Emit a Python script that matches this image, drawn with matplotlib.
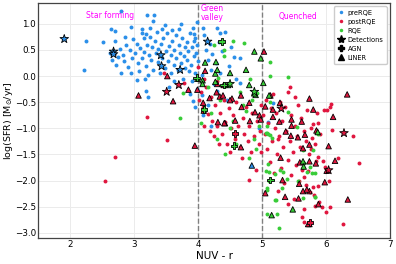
import numpy as np
import matplotlib
matplotlib.use('Agg')
import matplotlib.pyplot as plt
from matplotlib.lines import Line2D

# --- preRQE (blue) ---
pre_x = [2.22, 2.25, 2.52, 2.64, 2.70, 2.70, 2.79, 2.96, 3.13, 3.19, 3.21, 3.31, 3.30, 3.44, 3.60,
         3.74, 3.92, 3.93, 3.99, 3.96,
         2.62, 2.66, 2.72, 2.75, 2.78, 2.82, 2.85, 2.88, 2.90, 2.93, 2.97, 2.99, 2.80, 2.95, 2.86,
         3.02, 3.05, 3.06, 3.08, 3.10, 3.12, 3.15, 3.16, 3.18, 3.20, 3.22, 3.24, 3.25, 3.27, 3.28,
         3.30, 3.32, 3.34, 3.36, 3.37, 3.38, 3.40, 3.05, 3.17, 3.18, 3.22, 3.12, 3.25,
         3.42, 3.44, 3.46, 3.48, 3.50, 3.52, 3.53, 3.55, 3.57, 3.58, 3.60, 3.62, 3.63, 3.65, 3.66,
         3.68, 3.70, 3.72, 3.73, 3.75, 3.76, 3.78, 3.80, 3.55, 3.62, 3.48, 3.70, 3.79,
         3.82, 3.83, 3.85, 3.86, 3.88, 3.89, 3.90, 3.91, 3.93, 3.94, 3.95, 3.97, 3.98, 3.99, 3.87,
         3.92, 3.96, 4.00,
         4.08, 4.10, 4.06, 4.06, 4.08, 4.12, 4.15, 4.18, 4.20, 4.22, 4.25, 4.28, 4.30, 4.33, 4.34,
         4.35, 4.38, 4.42, 4.45, 4.48, 4.52, 4.56, 4.60, 4.66, 4.66, 4.15, 4.20, 4.30,
         5.17, 5.10, 4.95]
pre_y = [0.12, 0.67, 0.65, 0.90, 0.87, 0.67, 1.25, 0.94, 0.83, 0.80, 1.17, 1.17, 1.06, 0.90, 0.88,
         0.99, 0.92, 0.80, 1.03, 0.73,
         0.45, 0.30, 0.22, 0.37, 0.52, 0.41, 0.28, 0.60, 0.18, 0.50, 0.34, 0.71, 0.05, 0.05, 0.75,
         0.44, 0.62, 0.25, 0.10, 0.53, 0.35, 0.72, 0.47, 0.20, 0.60, 0.02, 0.40, 0.75, 0.30, 0.55,
         0.12, 0.68, 0.45, 0.85, 0.26, 0.52, 0.05, -0.08, -0.06, -0.28, -0.40, 0.90, 0.92,
         0.62, 0.35, 0.72, 0.15, 0.48, 0.82, 0.28, 0.58, 0.40, 0.05, 0.68, 0.22, 0.50, 0.78, 0.35,
         0.12, 0.60, 0.45, 0.25, 0.72, -0.05, 0.38, 0.55, -0.20, -0.10, 0.98, 0.90, 0.15,
         0.30, 0.65, 0.48, 0.10, 0.82, 0.22, 0.55, -0.10, 0.38, 0.68, 0.05, 0.45, -0.25, 0.60, -0.35,
         -0.48, -0.60, 0.28,
         0.92, 0.79, 0.02, -0.37, -0.75, 0.50, 0.30, 0.62, 0.12, 0.42, -0.15, 0.25, 0.92, 0.65, 0.83,
         0.05, 0.48, 0.84, -0.45, 0.20, 0.55, 0.36, -0.05, 0.34, -0.13, -0.55, -0.95, -0.28,
         -0.52, -0.88, -1.00]

# --- postRQE (red) ---
post_x = [2.54, 2.70, 3.51, 3.21, 3.47, 4.00, 3.78,
          4.02, 4.05, 4.08, 4.10, 4.12, 4.15, 4.18, 4.20, 4.22, 4.25, 4.27, 4.30, 4.32, 4.35, 4.38,
          4.40, 4.42, 4.45, 4.48, 4.50, 4.52, 4.55, 4.58, 4.60, 4.62, 4.65, 4.68, 4.70, 4.72, 4.75,
          4.78, 4.79, 4.80, 4.82, 4.85, 4.87, 4.90, 4.92, 4.95, 4.97, 4.99, 4.98, 4.10, 4.30,
          5.02, 5.05, 5.06, 5.08, 5.10, 5.12, 5.14, 5.15, 5.17, 5.18, 5.20, 5.22, 5.23, 5.25, 5.26,
          5.28, 5.30, 5.31, 5.33, 5.35, 5.36, 5.38, 5.40, 5.41, 5.43, 5.45, 5.46, 5.48, 5.50, 5.51,
          5.53, 5.55, 5.56, 5.58, 5.60, 5.61, 5.63, 5.65, 5.65, 5.66, 5.68, 5.69, 5.70, 5.72, 5.73,
          5.75, 5.76, 5.77, 5.78, 5.80, 5.80, 5.81, 5.83, 5.83, 5.85, 5.86, 5.87, 5.88, 5.88, 5.89,
          5.91, 5.93, 5.96, 5.97, 5.98, 6.00, 6.01, 6.02, 6.05, 6.06, 6.06, 6.07, 6.10, 6.19, 6.26,
          6.42, 6.52, 5.65, 5.62, 5.40, 5.25, 5.52, 5.44]
post_y = [-2.00, -1.55, -1.22, -0.79, 0.05, 0.18, -0.13,
          -0.45, -0.30, -0.60, -0.95, -0.20, -0.72, -1.05, -0.40, -0.85, -1.15, -0.55, -0.95, -1.30,
          -0.70, -1.10, -0.45, -0.88, -1.29, -0.62, -1.46, -1.00, -0.75, -1.20, -0.50, -0.95, -1.35,
          -1.56, -0.80, -1.10, -0.60, -1.25, -1.99, -0.95, -1.45, -0.70, -1.15, -1.79, -0.85, -1.30,
          -1.05, -1.46, -0.55, -0.05, -0.10,
          -0.75, -1.10, -0.45, -1.40, -0.90, -1.65, -0.62, -1.25, -0.35, -1.85, -1.00, -0.70, -1.50,
          -2.20, -1.15, -0.50, -1.75, -0.85, -1.35, -2.05, -0.60, -1.05, -1.60, -0.30, -1.25, -1.90,
          -0.75, -1.45, -2.35, -0.95, -1.70, -1.15, -0.55, -2.00, -1.35, -0.80, -1.80, -1.05, -1.94,
          -2.55, -1.24, -2.09, -0.65, -1.81, -1.50, -2.22, -1.00, -1.40, -1.18, -2.13, -0.92, -2.28,
          -1.29, -2.48, -1.62, -0.70, -2.10, -0.90, -1.54, -2.41, -1.10, -2.50, -1.62, -0.65, -1.73,
          -2.60, -1.81, -0.64, -2.00, -0.59, -2.50, -0.54, -1.03, -1.57, -2.83, -1.15, -1.67, -2.79,
          -2.70, -2.45, -1.20, -0.40, -0.20]

# --- RQE (green) ---
rqe_x = [4.25, 4.40, 4.54, 4.72, 5.13, 5.13, 5.40, 4.41, 4.31, 4.81, 3.77, 3.72,
         4.71, 4.75, 4.92, 5.07, 5.06, 5.10, 4.55, 5.41, 5.54, 5.13,
         5.07, 5.12, 5.16, 4.42, 4.79, 5.10, 5.06, 5.11, 5.28, 5.33, 5.20, 5.11, 5.07, 5.22, 5.65,
         5.39, 5.56, 5.70,
         5.07, 5.24, 5.27, 5.21, 5.31, 5.07, 5.83, 5.64,
         5.88, 5.64, 5.80, 5.75, 5.78, 5.83, 5.83,
         4.05, 4.20, 4.30, 4.50, 4.60, 4.15, 4.35, 4.65, 4.85, 4.88, 4.95, 4.90]
rqe_y = [0.60, 0.50, 0.68, 0.63, 0.26, 0.00, -0.01, 0.38, -0.03, -0.06, -0.32, -0.81,
         -0.56, -0.66, -0.33, -0.96, -1.08, -1.10, -0.85, -0.69, -0.97, -0.50,
         -1.09, -1.13, -1.18, -1.50, -1.56, -1.69, -1.81, -1.84, -1.79, -1.83, -1.88, -2.00, -2.14,
         -2.38, -1.67, -1.96, -2.00, -1.84,
         -2.63, -2.64, -2.91, -2.37, -2.14, -2.17, -2.31, -2.34,
         -1.10, -1.41, -1.42, -1.73, -1.85, -1.86, -2.31,
         -0.90, -0.70, -1.20, -1.00, -1.30, -0.20, -0.45, -0.30, -0.45, -1.20, -0.95, -1.40]

# --- LINER (triangles), fill follows the group ---
liner_x = [3.07, 3.61, 3.52, 3.85, 3.99, 3.95, 4.11, 4.08, 4.09, 4.30, 4.29, 4.34, 4.40, 4.18,
           4.42, 4.31, 4.39, 4.53, 4.67, 4.68, 4.80, 4.41, 4.58, 4.81, 4.89, 4.96, 5.05, 4.98,
           5.17, 5.28, 5.17, 5.27, 5.46, 5.46, 5.62, 5.74, 5.85, 5.37, 5.45, 5.56, 5.03, 6.33,
           5.13, 6.11, 4.50, 5.80, 5.67, 5.74, 6.04, 5.64, 5.84, 5.74, 6.14, 6.01, 5.98, 5.74,
           5.88, 6.34, 5.74, 4.67, 5.29, 5.59, 5.32, 5.05, 5.36, 5.57, 5.64, 5.58, 5.70, 5.72,
           3.99, 4.88, 4.98, 4.28, 4.11, 4.75, 4.50, 4.27, 4.07, 4.07, 4.27, 4.47, 4.90, 5.11,
           4.80, 4.88, 5.02, 4.30, 5.15, 5.48, 5.87, 5.64, 5.65, 4.84]
liner_y = [-0.37, -0.48, 0.00, -0.26, -0.26, -1.33, 0.10, -0.51, -0.66, -0.15, -0.31, -0.39,
           -0.17, -0.42, -0.90, -0.88, -0.37, -0.43, -0.37, -0.59, -0.51, -0.90, -0.85, -0.86,
           -0.69, -0.75, -0.58, -0.83, -0.64, -0.51, -0.78, -0.87, -0.83, -0.95, -0.87, -0.43,
           -1.04, -1.06, -1.14, -1.17, 0.47, -0.35, -0.37, -0.78, -0.46, -0.64, -1.12, -1.31,
           -1.34, -1.38, -1.67, -1.63, -1.62, -1.81, -2.03, -2.20, -2.45, -2.36, -2.83, -1.36,
           -1.56, -1.65, -1.99, -2.24, -2.31, -2.34, -2.20, -2.06, -2.17, -2.83,
           -0.05, 0.47, 0.34, 0.27, 0.26, 0.12, 0.06, 0.05, -0.08, -0.15, -0.11, -0.17, -0.36,
           -0.37, -0.17, -0.33, -0.13, 0.12, -2.66, -2.55, -1.07, -1.63, -1.73, -1.71]
liner_grp = ['post'] * 70 + ['rqe'] * 23 + ['pre']

# --- Detections (stars) ---
det_x = [1.91, 2.68, 2.68, 3.42, 3.43, 3.72, 4.15, 3.51, 3.70, 6.28, 6.04, 5.30, 4.50, 4.88]
det_y = [0.71, 0.47, 0.42, 0.40, 0.19, 0.12, 0.66, -0.30, -0.17, -1.09, -1.80, -0.62, -0.15, -0.30]
det_grp = ['pre'] * 7 + ['post'] * 5 + ['rqe'] * 2

# --- AGN (filled plus) ---
agn_x = [4.37, 3.98, 4.09, 4.56, 5.13, 4.40, 4.58, 5.75]
agn_y = [0.66, -0.03, -0.64, -1.33, -1.99, -0.17, -1.10, -2.80]
agn_grp = ['rqe'] * 6 + ['post'] * 2

colors = {'pre': '#2b8fe9', 'post': '#e0163f', 'rqe': '#38cc38'}

fig = plt.figure(figsize=(3.96, 2.64), dpi=100)
ax = fig.add_axes([0.096, 0.098, 0.889, 0.891])

ax.grid(True, color='#ebebeb', lw=0.7, zorder=0)
ax.set_axisbelow(True)

ax.scatter(pre_x, pre_y, s=8, c=colors['pre'], lw=0, zorder=2)
ax.scatter(post_x, post_y, s=8, c=colors['post'], lw=0, zorder=2)
ax.scatter(rqe_x, rqe_y, s=8, c=colors['rqe'], lw=0, zorder=2)

ax.scatter(liner_x, liner_y, s=16, marker='^', c=[colors[g] for g in liner_grp],
           edgecolors='black', linewidths=0.6, zorder=3)
ax.scatter(agn_x, agn_y, s=22, marker='P', c=[colors[g] for g in agn_grp],
           edgecolors='black', linewidths=0.6, zorder=3)
ax.scatter(det_x, det_y, s=42, marker='*', c=[colors[g] for g in det_grp],
           edgecolors='black', linewidths=0.6, zorder=4)

ax.axvline(4, color='grey', ls='--', lw=1.0, zorder=1)
ax.axvline(5, color='grey', ls='--', lw=1.0, zorder=1)

ax.text(2.62, 1.15, 'Star forming', color='magenta', fontsize=5.5, ha='center', va='center')
ax.text(4.22, 1.21, 'Green\nvalley', color='magenta', fontsize=5.5, ha='center', va='center',
        linespacing=1.0)
ax.text(5.56, 1.14, 'Quenched', color='magenta', fontsize=5.5, ha='center', va='center')

ax.set_xlim(1.5, 7)
ax.set_ylim(-3.1, 1.4)
ax.set_xticks([2, 3, 4, 5, 6, 7])
ax.set_yticks([-3.0, -2.5, -2.0, -1.5, -1.0, -0.5, 0.0, 0.5, 1.0])
ax.set_yticklabels(['−3.0', '−2.5', '−2.0', '−1.5', '−1.0', '−0.5', '0.0', '0.5', '1.0'])
ax.tick_params(labelsize=6.3, length=0, pad=1.5)
for sp in ax.spines.values():
    sp.set_color('#444444')
    sp.set_linewidth(0.9)
ax.set_xlabel('NUV - r', fontsize=7.5, labelpad=1)
ax.set_ylabel(r'log(SFR) [M$_{\odot}$/yr]', fontsize=6.8)
ax.yaxis.set_label_coords(-0.066, 0.5)

handles = [
    Line2D([], [], ls='', marker='o', ms=2.5, mfc=colors['pre'], mec='none', label='preRQE'),
    Line2D([], [], ls='', marker='o', ms=2.5, mfc=colors['post'], mec='none', label='postRQE'),
    Line2D([], [], ls='', marker='o', ms=2.5, mfc=colors['rqe'], mec='none', label='RQE'),
    Line2D([], [], ls='', marker='*', ms=6, color='black', label='Detections'),
    Line2D([], [], ls='', marker='P', ms=4.5, color='black', label='AGN'),
    Line2D([], [], ls='', marker='^', ms=4.5, color='black', label='LINER'),
]
ax.legend(handles=handles, loc='upper right', fontsize=4.8, frameon=True, framealpha=1,
          edgecolor='#cccccc', handletextpad=0.4, borderpad=0.5, labelspacing=0.45,
          handlelength=1.2, fancybox=True)

fig.savefig('out.png', dpi=100)
